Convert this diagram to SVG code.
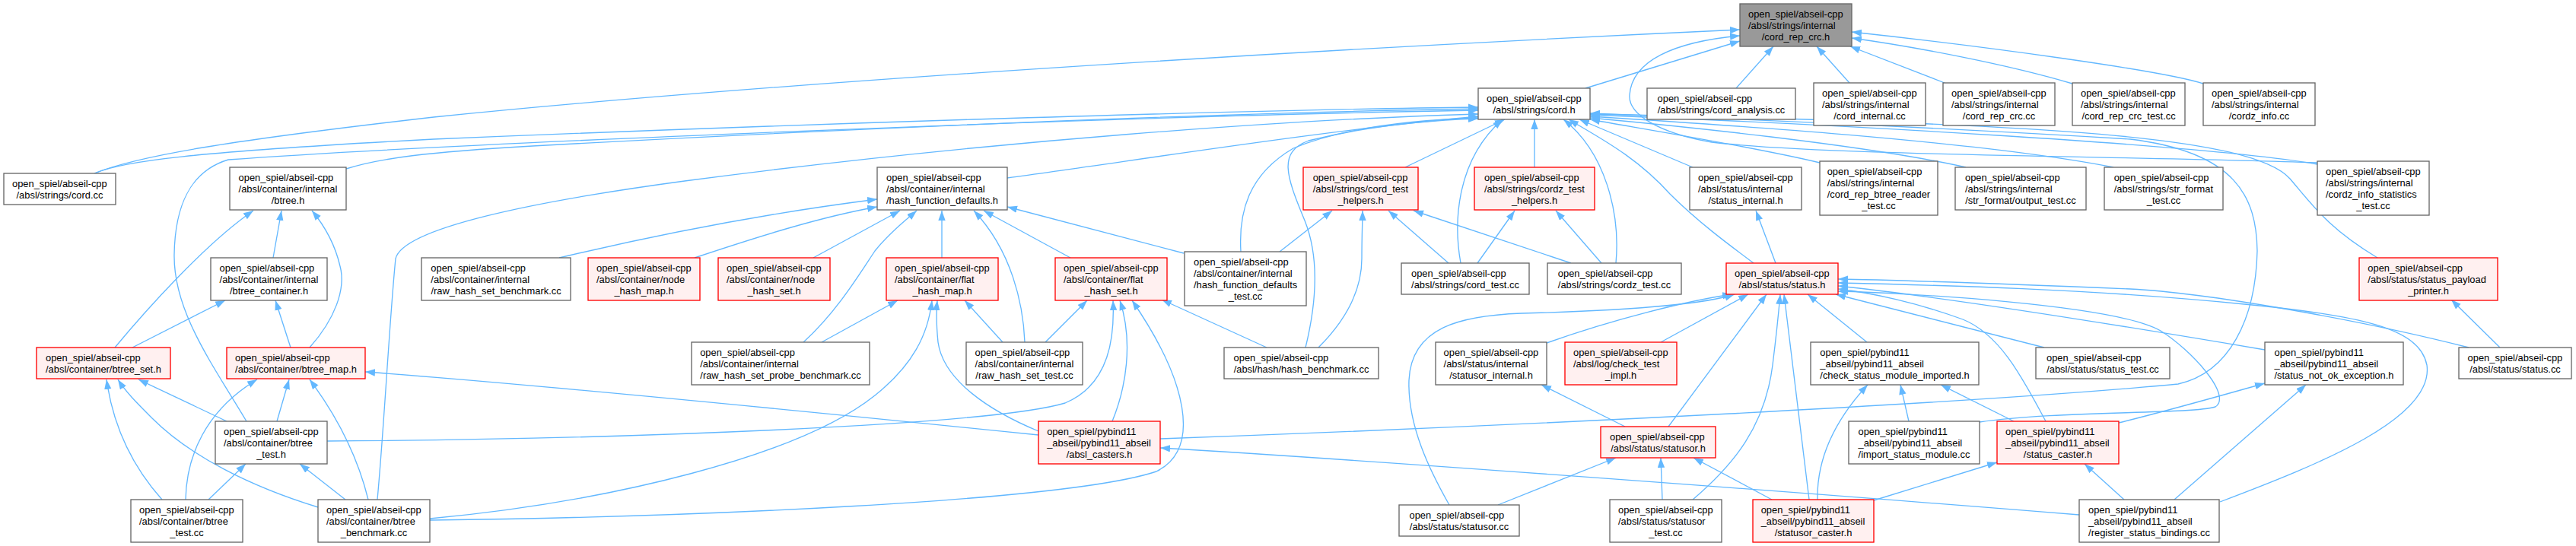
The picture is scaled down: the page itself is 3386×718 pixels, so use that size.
<svg xmlns="http://www.w3.org/2000/svg" width="3386" height="718" viewBox="0 0 3386 718">
<defs>
<style>
.e{fill:none;stroke:#63b8ff;stroke-width:1.33;marker-end:url(#ah)}
.n rect{fill:#fff;stroke:#666;stroke-width:1.33}
.r rect{fill:#fff0f0;stroke:#ff0000;stroke-width:1.33}
.g rect{fill:#999;stroke:#666;stroke-width:1.33}
text{font-family:"Liberation Sans",Arial,Helvetica,sans-serif;font-size:12.9px;fill:#000}
.m{text-anchor:middle}
</style>
<marker id="ah" markerUnits="userSpaceOnUse" markerWidth="14" markerHeight="10" refX="13" refY="4.7" orient="auto"><path d="M0,0L13,4.7L0,9.4z" fill="#63b8ff"/></marker>
</defs>
<rect x="0" y="0" width="3386" height="718" fill="#fff"/>
<g id="connectors">
<path class="e" d="M124,228 C180,205 300,185 570,154 C1000,110 1700,66 2287,39"/>
<path class="e" d="M2084,116 L2287,54"/>
<path class="e" d="M2282,116 L2331,61"/>
<path class="e" d="M2431,109 L2388,61"/>
<path class="e" d="M2556,109 L2432,61"/>
<path class="e" d="M2724,110 C2640,85 2520,62 2434,50"/>
<path class="e" d="M2896,110 C2840,92 2600,60 2434,42"/>
<path class="e" d="M3046,214 C2800,205 2400,205 2250,187 C2180,175 2140,150 2142,125 C2145,80 2200,55 2287,47"/>
<path class="e" d="M124,228 C160,212 250,200 570,183 C1000,165 1600,145 1943,141"/>
<path class="e" d="M455,222 C500,208 560,200 700,192 C1100,170 1600,148 1943,143"/>
<path class="e" d="M324,554 C280,480 228,410 229,335 C230,270 250,225 300,210 C600,188 1500,152 1943,145"/>
<path class="e" d="M496,657 C505,560 512,420 520,340 C530,300 700,265 900,238 C1300,185 1700,157 1943,150"/>
<path class="e" d="M1324,234 C1500,210 1750,170 1943,153"/>
<path class="e" d="M1631,331 C1628,280 1640,230 1700,195 C1760,170 1850,158 1943,155"/>
<path class="e" d="M1716,457 C1730,400 1735,340 1715,290 C1690,230 1680,200 1720,185 C1800,165 1880,158 1943,156"/>
<path class="e" d="M1847,220 L1978,157"/>
<path class="e" d="M2017,220 L2017,157"/>
<path class="e" d="M1920,346 C1910,290 1915,210 1975,157"/>
<path class="e" d="M2124,346 C2130,280 2110,200 2055,157"/>
<path class="e" d="M2225,220 L2076,157"/>
<path class="e" d="M2305,346 C2270,320 2230,290 2195,255 C2150,205 2100,180 2062,157"/>
<path class="e" d="M2392,214 C2300,192 2150,168 2090,157"/>
<path class="e" d="M2584,220 C2450,190 2200,165 2090,155"/>
<path class="e" d="M2778,220 C2600,185 2250,163 2090,153"/>
<path class="e" d="M3046,216 C2900,190 2400,163 2090,151"/>
<path class="e" d="M3125,339 C3060,300 3040,270 3010,235 C2960,180 2700,162 2090,150"/>
<path class="e" d="M1525,577 C2000,560 2600,530 2863,505 C2930,490 2965,420 2967,330 C2966,260 2940,200 2800,183 C2500,165 2250,155 2090,149"/>
<path class="e" d="M2334,346 L2308,277"/>
<path class="e" d="M2033,451 C2120,420 2220,395 2277,387"/>
<path class="e" d="M1905,664 C1880,620 1850,560 1852,500 C1855,430 1920,415 2000,412 C2150,408 2240,400 2280,387"/>
<path class="e" d="M2183,450 L2298,387"/>
<path class="e" d="M2193,561 L2322,387"/>
<path class="e" d="M2225,657 C2280,610 2320,560 2330,480 C2335,440 2338,410 2340,387"/>
<path class="e" d="M2378,657 L2345,387"/>
<path class="e" d="M2454,450 L2376,387"/>
<path class="e" d="M2689,554 C2660,500 2630,440 2580,420 C2520,398 2460,385 2416,380"/>
<path class="e" d="M2687,457 L2413,387"/>
<path class="e" d="M2977,460 C2800,430 2550,390 2416,376"/>
<path class="e" d="M3245,457 C3100,420 2900,385 2800,380 C2600,372 2500,368 2416,367"/>
<path class="e" d="M2918,660 C3050,610 3200,550 3190,480 C3180,430 3100,415 2950,400 C2750,380 2550,375 2416,372"/>
<path class="e" d="M2602,555 C2700,540 2880,545 2912,535 C2935,520 2880,460 2840,435 C2780,400 2500,385 2416,383"/>
<path class="e" d="M2136,561 L2026,506"/>
<path class="e" d="M1969,664 L2124,602"/>
<path class="e" d="M2185,657 L2183,602"/>
<path class="e" d="M2329,657 L2226,602"/>
<path class="e" d="M2463,658 L2625,608"/>
<path class="e" d="M2389,657 C2388,610 2405,560 2455,506"/>
<path class="e" d="M2509,554 L2498,506"/>
<path class="e" d="M2647,554 L2551,506"/>
<path class="e" d="M2785,556 C2850,540 2920,520 2977,504"/>
<path class="e" d="M2792,657 L2740,610"/>
<path class="e" d="M2858,657 L3031,506"/>
<path class="e" d="M2733,677 C2400,650 1800,605 1525,589"/>
<path class="e" d="M3286,457 L3222,394"/>
<path class="e" d="M1365,572 C1100,545 700,505 480,489"/>
<path class="e" d="M1365,567 C1300,540 1240,500 1233,450 C1230,420 1231,405 1232,395"/>
<path class="e" d="M1462,554 C1480,510 1490,450 1472,395"/>
<path class="e" d="M1080,450 L1180,395"/>
<path class="e" d="M565,682 C800,660 1050,600 1150,520 C1200,480 1220,440 1225,395"/>
<path class="e" d="M1318,450 L1268,395"/>
<path class="e" d="M1374,450 L1429,395"/>
<path class="e" d="M430,580 C800,578 1300,560 1400,530 C1460,505 1465,440 1463,395"/>
<path class="e" d="M565,684 C900,680 1400,660 1520,620 C1580,590 1560,500 1488,395"/>
<path class="e" d="M1665,457 L1527,394"/>
<path class="e" d="M735,339 C900,300 1050,275 1153,262"/>
<path class="e" d="M913,339 C1000,310 1080,285 1153,272"/>
<path class="e" d="M1069,339 L1183,277"/>
<path class="e" d="M1056,450 C1100,410 1130,360 1150,330 C1170,305 1190,290 1205,277"/>
<path class="e" d="M1238,339 L1238,277"/>
<path class="e" d="M1347,450 C1345,400 1330,330 1280,277"/>
<path class="e" d="M1407,339 L1293,277"/>
<path class="e" d="M1556,333 L1324,272"/>
<path class="e" d="M151,457 C190,410 270,320 333,277"/>
<path class="e" d="M359,339 L370,277"/>
<path class="e" d="M407,457 C440,420 455,380 447,350 C440,320 425,295 410,277"/>
<path class="e" d="M174,457 L296,395"/>
<path class="e" d="M382,457 L362,395"/>
<path class="e" d="M213,657 C180,620 150,570 140,499"/>
<path class="e" d="M418,667 C330,640 250,600 200,550 C180,530 165,515 155,499"/>
<path class="e" d="M298,554 L182,499"/>
<path class="e" d="M244,657 C245,600 270,540 338,499"/>
<path class="e" d="M364,554 L380,499"/>
<path class="e" d="M484,657 C470,600 445,550 407,499"/>
<path class="e" d="M274,657 L323,610"/>
<path class="e" d="M454,657 L394,610"/>
<path class="e" d="M1682,331 L1751,277"/>
<path class="e" d="M1733,457 C1770,420 1790,380 1790,340 C1790,310 1791,290 1791,277"/>
<path class="e" d="M1904,346 L1825,277"/>
<path class="e" d="M2065,346 L1858,277"/>
<path class="e" d="M1942,346 L1991,277"/>
<path class="e" d="M2105,346 L2045,277"/>
</g>
<g id="root" class="g"><rect x="2287" y="5" width="147" height="56"/><text x="2298" y="23">open_spiel/abseil-cpp</text><text x="2298" y="38">/absl/strings/internal</text><text class="m" x="2360.5" y="53">/cord_rep_crc.h</text></g>
<g id="cord_h" class="n"><rect x="1943" y="116" width="147" height="41"/><text x="1954" y="134">open_spiel/abseil-cpp</text><text class="m" x="2016.5" y="149">/absl/strings/cord.h</text></g>
<g id="cord_analysis_cc" class="n"><rect x="2165" y="116" width="195" height="41"/><text x="2178.6" y="134">open_spiel/abseil-cpp</text><text class="m" x="2262.5" y="149">/absl/strings/cord_analysis.cc</text></g>
<g id="cord_internal_cc" class="n"><rect x="2384" y="109" width="147" height="56"/><text x="2395" y="127">open_spiel/abseil-cpp</text><text x="2395" y="142">/absl/strings/internal</text><text class="m" x="2457.5" y="157">/cord_internal.cc</text></g>
<g id="cord_rep_crc_cc" class="n"><rect x="2554" y="109" width="147" height="56"/><text x="2565" y="127">open_spiel/abseil-cpp</text><text x="2565" y="142">/absl/strings/internal</text><text class="m" x="2627.5" y="157">/cord_rep_crc.cc</text></g>
<g id="cord_rep_crc_test_cc" class="n"><rect x="2724" y="109" width="148" height="56"/><text x="2735" y="127">open_spiel/abseil-cpp</text><text x="2735" y="142">/absl/strings/internal</text><text class="m" x="2798" y="157">/cord_rep_crc_test.cc</text></g>
<g id="cordz_info_cc" class="n"><rect x="2896" y="109" width="147" height="56"/><text x="2907" y="127">open_spiel/abseil-cpp</text><text x="2907" y="142">/absl/strings/internal</text><text class="m" x="2969.5" y="157">/cordz_info.cc</text></g>
<g id="cord_cc" class="n"><rect x="5" y="228" width="147" height="41"/><text x="16" y="246">open_spiel/abseil-cpp</text><text class="m" x="78.5" y="261">/absl/strings/cord.cc</text></g>
<g id="btree_h" class="n"><rect x="302" y="220" width="153" height="56"/><text x="313.6" y="238">open_spiel/abseil-cpp</text><text x="313.6" y="253">/absl/container/internal</text><text class="m" x="378.5" y="268">/btree.h</text></g>
<g id="hash_function_defaults_h" class="n"><rect x="1153" y="220" width="171" height="56"/><text x="1165" y="238">open_spiel/abseil-cpp</text><text x="1165" y="253">/absl/container/internal</text><text class="m" x="1238.5" y="268">/hash_function_defaults.h</text></g>
<g id="cord_test_helpers_h" class="r"><rect x="1713" y="220" width="151" height="56"/><text x="1725.7" y="238">open_spiel/abseil-cpp</text><text x="1725.7" y="253">/absl/strings/cord_test</text><text class="m" x="1788.5" y="268">_helpers.h</text></g>
<g id="cordz_test_helpers_h" class="r"><rect x="1938" y="220" width="158" height="56"/><text x="1951" y="238">open_spiel/abseil-cpp</text><text x="1951" y="253">/absl/strings/cordz_test</text><text class="m" x="2017" y="268">_helpers.h</text></g>
<g id="status_internal_h" class="n"><rect x="2221" y="220" width="147" height="56"/><text x="2232" y="238">open_spiel/abseil-cpp</text><text x="2232" y="253">/absl/status/internal</text><text class="m" x="2294.5" y="268">/status_internal.h</text></g>
<g id="cord_rep_btree_reader_test_cc" class="n"><rect x="2392" y="212" width="155" height="71"/><text x="2401.7" y="230">open_spiel/abseil-cpp</text><text x="2401.7" y="245">/absl/strings/internal</text><text x="2401.7" y="260">/cord_rep_btree_reader</text><text class="m" x="2469.5" y="275">_test.cc</text></g>
<g id="output_test_cc" class="n"><rect x="2570" y="220" width="172" height="56"/><text x="2583" y="238">open_spiel/abseil-cpp</text><text x="2583" y="253">/absl/strings/internal</text><text class="m" x="2656" y="268">/str_format/output_test.cc</text></g>
<g id="str_format_test_cc" class="n"><rect x="2766" y="220" width="156" height="56"/><text x="2778.7" y="238">open_spiel/abseil-cpp</text><text x="2778.7" y="253">/absl/strings/str_format</text><text class="m" x="2844" y="268">_test.cc</text></g>
<g id="cordz_info_statistics_test_cc" class="n"><rect x="3046" y="212" width="147" height="71"/><text x="3057" y="230">open_spiel/abseil-cpp</text><text x="3057" y="245">/absl/strings/internal</text><text x="3057" y="260">/cordz_info_statistics</text><text class="m" x="3119.5" y="275">_test.cc</text></g>
<g id="btree_container_h" class="n"><rect x="277" y="339" width="153" height="56"/><text x="288.6" y="357">open_spiel/abseil-cpp</text><text x="288.6" y="372">/absl/container/internal</text><text class="m" x="353.5" y="387">/btree_container.h</text></g>
<g id="raw_hash_set_benchmark_cc" class="n"><rect x="554" y="339" width="196" height="56"/><text x="566.3" y="357">open_spiel/abseil-cpp</text><text x="566.3" y="372">/absl/container/internal</text><text class="m" x="652" y="387">/raw_hash_set_benchmark.cc</text></g>
<g id="node_hash_map_h" class="r"><rect x="773" y="339" width="147" height="56"/><text x="784" y="357">open_spiel/abseil-cpp</text><text x="784" y="372">/absl/container/node</text><text class="m" x="846.5" y="387">_hash_map.h</text></g>
<g id="node_hash_set_h" class="r"><rect x="944" y="339" width="147" height="56"/><text x="955" y="357">open_spiel/abseil-cpp</text><text x="955" y="372">/absl/container/node</text><text class="m" x="1017.5" y="387">_hash_set.h</text></g>
<g id="flat_hash_map_h" class="r"><rect x="1165" y="339" width="147" height="56"/><text x="1176" y="357">open_spiel/abseil-cpp</text><text x="1176" y="372">/absl/container/flat</text><text class="m" x="1238.5" y="387">_hash_map.h</text></g>
<g id="flat_hash_set_h" class="r"><rect x="1387" y="339" width="147" height="56"/><text x="1398" y="357">open_spiel/abseil-cpp</text><text x="1398" y="372">/absl/container/flat</text><text class="m" x="1460.5" y="387">_hash_set.h</text></g>
<g id="hash_function_defaults_test_cc" class="n"><rect x="1557" y="331" width="160" height="71"/><text x="1569" y="349">open_spiel/abseil-cpp</text><text x="1569" y="364">/absl/container/internal</text><text x="1569" y="379">/hash_function_defaults</text><text class="m" x="1637" y="394">_test.cc</text></g>
<g id="cord_test_cc" class="n"><rect x="1842" y="346" width="168" height="41"/><text x="1855" y="364">open_spiel/abseil-cpp</text><text class="m" x="1926" y="379">/absl/strings/cord_test.cc</text></g>
<g id="cordz_test_cc" class="n"><rect x="2034" y="346" width="176" height="41"/><text x="2047.8" y="364">open_spiel/abseil-cpp</text><text class="m" x="2122" y="379">/absl/strings/cordz_test.cc</text></g>
<g id="status_h" class="r"><rect x="2269" y="346" width="147" height="41"/><text x="2280" y="364">open_spiel/abseil-cpp</text><text class="m" x="2342.5" y="379">/absl/status/status.h</text></g>
<g id="status_payload_printer_h" class="r"><rect x="3101" y="339" width="182" height="56"/><text x="3112.3" y="357">open_spiel/abseil-cpp</text><text x="3112.3" y="372">/absl/status/status_payload</text><text class="m" x="3192" y="387">_printer.h</text></g>
<g id="btree_set_h" class="r"><rect x="48" y="457" width="176" height="41"/><text x="60" y="475">open_spiel/abseil-cpp</text><text class="m" x="136" y="490">/absl/container/btree_set.h</text></g>
<g id="btree_map_h" class="r"><rect x="298" y="457" width="182" height="41"/><text x="309" y="475">open_spiel/abseil-cpp</text><text class="m" x="389" y="490">/absl/container/btree_map.h</text></g>
<g id="raw_hash_set_probe_benchmark_cc" class="n"><rect x="909" y="450" width="234" height="56"/><text x="920.2" y="468">open_spiel/abseil-cpp</text><text x="920.2" y="483">/absl/container/internal</text><text class="m" x="1026" y="498">/raw_hash_set_probe_benchmark.cc</text></g>
<g id="raw_hash_set_test_cc" class="n"><rect x="1270" y="450" width="153" height="56"/><text x="1281.6" y="468">open_spiel/abseil-cpp</text><text x="1281.6" y="483">/absl/container/internal</text><text class="m" x="1346.5" y="498">/raw_hash_set_test.cc</text></g>
<g id="hash_benchmark_cc" class="n"><rect x="1609" y="457" width="203" height="41"/><text x="1621.6" y="475">open_spiel/abseil-cpp</text><text class="m" x="1710.5" y="490">/absl/hash/hash_benchmark.cc</text></g>
<g id="statusor_internal_h" class="n"><rect x="1887" y="450" width="146" height="56"/><text x="1897.6" y="468">open_spiel/abseil-cpp</text><text x="1897.6" y="483">/absl/status/internal</text><text class="m" x="1960" y="498">/statusor_internal.h</text></g>
<g id="check_test_impl_h" class="r"><rect x="2057" y="450" width="147" height="56"/><text x="2068" y="468">open_spiel/abseil-cpp</text><text x="2068" y="483">/absl/log/check_test</text><text class="m" x="2130.5" y="498">_impl.h</text></g>
<g id="check_status_module_imported_h" class="n"><rect x="2380" y="450" width="221" height="56"/><text x="2392.3" y="468">open_spiel/pybind11</text><text x="2392.3" y="483">_abseil/pybind11_abseil</text><text class="m" x="2490.5" y="498">/check_status_module_imported.h</text></g>
<g id="status_test_cc" class="n"><rect x="2676" y="457" width="176" height="41"/><text x="2690" y="475">open_spiel/abseil-cpp</text><text class="m" x="2764" y="490">/absl/status/status_test.cc</text></g>
<g id="status_not_ok_exception_h" class="n"><rect x="2977" y="450" width="182" height="56"/><text x="2989.5" y="468">open_spiel/pybind11</text><text x="2989.5" y="483">_abseil/pybind11_abseil</text><text class="m" x="3068" y="498">/status_not_ok_exception.h</text></g>
<g id="status_cc" class="n"><rect x="3232" y="457" width="148" height="41"/><text x="3243.6" y="475">open_spiel/abseil-cpp</text><text class="m" x="3306" y="490">/absl/status/status.cc</text></g>
<g id="btree_test_h" class="n"><rect x="283" y="554" width="147" height="56"/><text x="294" y="572">open_spiel/abseil-cpp</text><text x="294" y="587">/absl/container/btree</text><text class="m" x="356.5" y="602">_test.h</text></g>
<g id="absl_casters_h" class="r"><rect x="1365" y="554" width="160" height="56"/><text x="1376.2" y="572">open_spiel/pybind11</text><text x="1376.2" y="587">_abseil/pybind11_abseil</text><text class="m" x="1445" y="602">/absl_casters.h</text></g>
<g id="statusor_h" class="r"><rect x="2104" y="561" width="151" height="41"/><text x="2116" y="579">open_spiel/abseil-cpp</text><text class="m" x="2179.5" y="594">/absl/status/statusor.h</text></g>
<g id="import_status_module_cc" class="n"><rect x="2430" y="554" width="172" height="56"/><text x="2442.5" y="572">open_spiel/pybind11</text><text x="2442.5" y="587">_abseil/pybind11_abseil</text><text class="m" x="2516" y="602">/import_status_module.cc</text></g>
<g id="status_caster_h" class="r"><rect x="2625" y="554" width="160" height="56"/><text x="2636" y="572">open_spiel/pybind11</text><text x="2636" y="587">_abseil/pybind11_abseil</text><text class="m" x="2705" y="602">/status_caster.h</text></g>
<g id="btree_test_cc" class="n"><rect x="172" y="657" width="147" height="56"/><text x="183" y="675">open_spiel/abseil-cpp</text><text x="183" y="690">/absl/container/btree</text><text class="m" x="245.5" y="705">_test.cc</text></g>
<g id="btree_benchmark_cc" class="n"><rect x="418" y="657" width="147" height="56"/><text x="429" y="675">open_spiel/abseil-cpp</text><text x="429" y="690">/absl/container/btree</text><text class="m" x="491.5" y="705">_benchmark.cc</text></g>
<g id="statusor_cc" class="n"><rect x="1839" y="664" width="158" height="41"/><text x="1852.5" y="682">open_spiel/abseil-cpp</text><text class="m" x="1918" y="697">/absl/status/statusor.cc</text></g>
<g id="statusor_test_cc" class="n"><rect x="2116" y="657" width="147" height="56"/><text x="2127" y="675">open_spiel/abseil-cpp</text><text x="2127" y="690">/absl/status/statusor</text><text class="m" x="2189.5" y="705">_test.cc</text></g>
<g id="statusor_caster_h" class="r"><rect x="2304" y="657" width="159" height="56"/><text x="2314.7" y="675">open_spiel/pybind11</text><text x="2314.7" y="690">_abseil/pybind11_abseil</text><text class="m" x="2383.5" y="705">/statusor_caster.h</text></g>
<g id="register_status_bindings_cc" class="n"><rect x="2733" y="657" width="184" height="56"/><text x="2745" y="675">open_spiel/pybind11</text><text x="2745" y="690">_abseil/pybind11_abseil</text><text class="m" x="2825" y="705">/register_status_bindings.cc</text></g>
</svg>
